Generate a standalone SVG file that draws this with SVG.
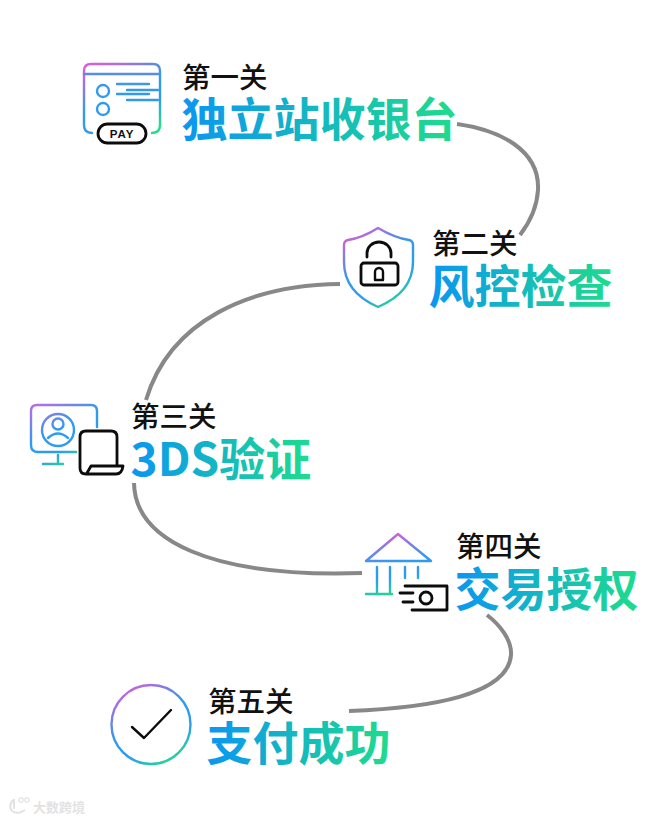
<svg xmlns="http://www.w3.org/2000/svg" width="656" height="820" viewBox="0 0 656 820">
<style>
.t{font-family:"Noto Sans CJK SC","Noto Sans",sans-serif;font-weight:500;font-size:28.5px;fill:#111}
.h{font-family:"Noto Sans CJK SC","Noto Sans",sans-serif;font-weight:700;font-size:46px;fill:url(#tg)}
.i{fill:none;stroke:url(#ig);stroke-width:2.4;stroke-linecap:round;stroke-linejoin:round}
.k{fill:none;stroke:#0c0c0c;stroke-width:2.8;stroke-linecap:round;stroke-linejoin:round}
.c{fill:none;stroke:#888;stroke-width:4;stroke-linecap:butt}
</style>
<defs>
<linearGradient id="tg" x1="0" y1="0" x2="1" y2="0"><stop offset="0" stop-color="#0a96f2"/><stop offset="1" stop-color="#1edc8c"/></linearGradient>
<linearGradient id="ig" x1=".2" y1="0" x2=".75" y2="1"><stop offset="0" stop-color="#d45fd8"/><stop offset=".45" stop-color="#2f9bf0"/><stop offset=".72" stop-color="#2f9bf0"/><stop offset="1" stop-color="#22dc8a"/></linearGradient>
<linearGradient id="ig1" gradientUnits="userSpaceOnUse" x1="0" y1="64" x2="0" y2="133"><stop offset="0" stop-color="#6a86ea"/><stop offset=".4" stop-color="#2f9bf0"/><stop offset="1" stop-color="#2f9bf0"/></linearGradient>
<linearGradient id="ig3" gradientUnits="userSpaceOnUse" x1="40" y1="405" x2="70" y2="465"><stop offset="0" stop-color="#b070e4"/><stop offset=".45" stop-color="#2f9bf0"/><stop offset=".75" stop-color="#2f9bf0"/><stop offset="1" stop-color="#22dc8a"/></linearGradient>
<linearGradient id="ig4" gradientUnits="userSpaceOnUse" x1="385" y1="534" x2="395" y2="596"><stop offset="0" stop-color="#d45fd8"/><stop offset=".45" stop-color="#2f9bf0"/><stop offset=".7" stop-color="#2f9bf0"/><stop offset="1" stop-color="#22dc8a"/></linearGradient>
</defs>
<rect width="656" height="820" fill="#fff"/>
<g id="connectors">
<path class="c" d="M457,124 C500,130 540,150 538,190 C537,207 530,222 520,235"/>
<path class="c" d="M340,284 C250,285 170,320 146,400"/>
<path class="c" d="M134,483 C135,540 210,578 362,573"/>
<path class="c" d="M487,615 C500,625 512,640 511,655 C508,695 430,708 349,711"/>
</g>
<g id="node1">
<path class="i" d="M92,133 Q84,133 84,125 V71 Q84,64 91,64 H153 Q160,64 160,71 V125 Q160,133 152,133"/>
<g style="fill:none;stroke:url(#ig1);stroke-width:2.4;stroke-linecap:round">
<path d="M84,74 H160"/>
<circle cx="103" cy="91" r="6"/><circle cx="103" cy="109" r="6"/>
<path d="M117,84 H149 M127,90 H158 M117,94 H149 M127,100 H158"/>
</g>
<rect class="k" x="98" y="124" width="48" height="19" rx="9.5"/>
<text x="122" y="138" text-anchor="middle" style="font-family:'Liberation Sans',sans-serif;font-weight:700;font-size:11.5px;letter-spacing:1px;fill:#111">PAY</text>
<text class="t" x="182" y="88">第一关</text>
<text class="h" x="181.5" y="136">独立站收银台</text>
</g>
<g id="node2">
<path class="i" d="M378,228 Q395,238 409,240 Q413,241 413,245 V262 Q413,292 378,307 Q344,292 344,262 V245 Q344,241 348,240 Q362,238 378,228 Z"/>
<path class="k" d="M367,257 V253 A12,11 0 0 1 391,253 V257"/>
<rect class="k" x="361" y="263" width="37" height="22" rx="3"/>
<path class="k" d="M375,280 V272 A4,4 0 0 1 383,272 V280 Z" style="stroke-width:2.4"/>
<text class="t" x="432" y="254">第二关</text>
<text class="h" x="428.5" y="303">风控检查</text>
</g>
<g id="node3">
<g style="fill:none;stroke:url(#ig3);stroke-width:2.4;stroke-linecap:round;stroke-linejoin:round">
<path d="M97,427 V411 Q97,405 91,405 H37 Q31,405 31,411 V445 Q31,452 38,452 H76"/>
<path d="M58,455 V463 M43,464 H63"/>
<circle cx="58" cy="430" r="16"/>
<circle cx="58" cy="424" r="5.5"/>
<path d="M48,438 Q58,429 68,438"/>
</g>
<path class="k" d="M86,474 Q80,474 80,468 V437 Q80,431 86,431 H111 Q117,431 117,437 V466 M117,466 H91 L87,473 M86,474 H116 Q122,474 123,466 H117"/>
<text class="t" x="131" y="427">第三关</text>
<text class="h" x="130.5" y="476">3DS验证</text>
</g>
<g id="node4">
<g style="fill:none;stroke:url(#ig4);stroke-width:2.4;stroke-linecap:round;stroke-linejoin:round">
<path d="M398,534 L431,561 H366 Z"/>
<path d="M377,567 V593 M390,567 V593 M405,567 V578 M418,567 V578 M366,594 H392"/>
</g>
<path class="k" d="M405,586 H447 V610 H412 M400,593 H413 M403,602 H413"/>
<circle class="k" cx="426" cy="598" r="6"/>
<text class="t" x="456" y="557">第四关</text>
<text class="h" x="454.5" y="606">交易授权</text>
</g>
<g id="node5">
<circle class="i" cx="151" cy="724.5" r="39.5"/>
<path class="k" d="M132,727 L144,738 L171,710" style="stroke-width:2.4"/>
<text class="t" x="208" y="712">第五关</text>
<text class="h" x="206.5" y="760">支付成功</text>
</g>
<g id="watermark">
<path d="M13,800 Q8,806 12,811 Q18,815 25,810" fill="none" stroke="#e2e2e2" stroke-width="2"/>
<path d="M14,799 V809" fill="none" stroke="#e2e2e2" stroke-width="2"/>
<circle cx="21" cy="800" r="2.2" fill="none" stroke="#e2e2e2" stroke-width="1.2"/>
<circle cx="27" cy="800" r="2.2" fill="none" stroke="#e2e2e2" stroke-width="1.2"/>
<text x="33" y="812" style="font-family:'Noto Sans CJK SC',sans-serif;font-weight:700;font-size:13px;fill:#e2e2e2">大数跨境</text>
</g>
</svg>
